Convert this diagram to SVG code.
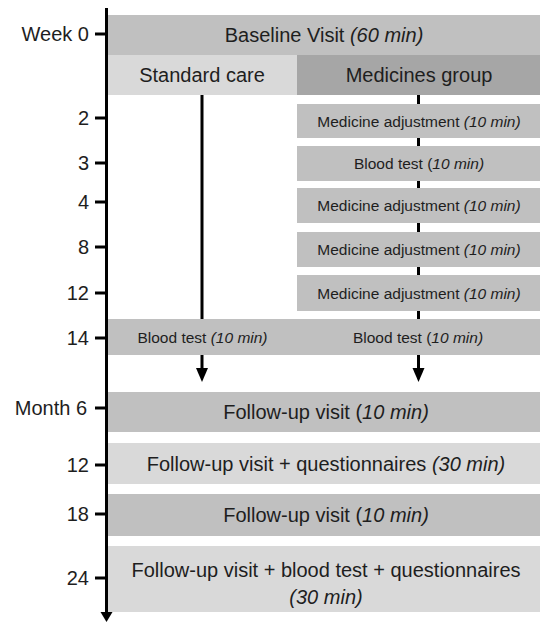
<svg xmlns="http://www.w3.org/2000/svg" width="540" height="622" viewBox="0 0 540 622">
<style>
text{font-family:"Liberation Sans",Arial,sans-serif;fill:#1e1e1e}
.h{font-size:20px}
.s{font-size:15.5px}
.lab{font-size:20px;text-anchor:end}
.c{text-anchor:middle}
.i{font-style:italic}
.mid{fill:#c0c0c0}
.light{fill:#d9d9d9}
.dark{fill:#a6a6a6}
.line{stroke:#000;stroke-width:3;fill:none}
.head{fill:#000}
</style>

<g id="connectors">
<line class="line" x1="202" y1="95" x2="202" y2="369"/>
<path class="head" d="M196,368 L208,368 L202,382 Z"/>
<line class="line" x1="418.5" y1="95" x2="418.5" y2="369"/>
<path class="head" d="M412.5,368 L424.5,368 L418.5,382 Z"/>
</g>

<g id="axis">
<line class="line" x1="106.5" y1="8" x2="106.5" y2="613"/>
<path class="head" d="M100.5,612 L112.5,612 L106.5,622 Z"/>
<g class="line">
<line x1="95" y1="34" x2="106" y2="34"/>
<line x1="95" y1="118" x2="106" y2="118"/>
<line x1="95" y1="163" x2="106" y2="163"/>
<line x1="95" y1="202" x2="106" y2="202"/>
<line x1="95" y1="247" x2="106" y2="247"/>
<line x1="95" y1="293" x2="106" y2="293"/>
<line x1="95" y1="338" x2="106" y2="338"/>
<line x1="95" y1="408" x2="106" y2="408"/>
<line x1="95" y1="465" x2="106" y2="465"/>
<line x1="95" y1="514" x2="106" y2="514"/>
<line x1="95" y1="578" x2="106" y2="578"/>
</g>
<text class="lab" x="89" y="41">Week 0</text>
<text class="lab" x="89" y="125">2</text>
<text class="lab" x="89" y="170">3</text>
<text class="lab" x="89" y="209">4</text>
<text class="lab" x="89" y="254">8</text>
<text class="lab" x="89" y="300">12</text>
<text class="lab" x="89" y="345">14</text>
<text class="lab" x="87" y="415">Month 6</text>
<text class="lab" x="89" y="472">12</text>
<text class="lab" x="89" y="521">18</text>
<text class="lab" x="89" y="585">24</text>
</g>

<g id="baseline">
<rect class="mid" x="108" y="15" width="432" height="40"/>
<text class="h c" x="324" y="42">Baseline Visit <tspan class="i">(60 min)</tspan></text>
</g>

<g id="standard-care">
<rect class="light" x="108" y="55" width="189" height="40"/>
<text class="h c" x="202" y="82">Standard care</text>
</g>

<g id="medicines-group">
<rect class="dark" x="297" y="55" width="243" height="40"/>
<text class="h c" x="419" y="82">Medicines group</text>
</g>

<g id="med-adj-2">
<rect class="mid" x="297" y="104" width="243" height="34"/>
<text class="s c" x="419" y="126.5">Medicine adjustment <tspan class="i">(10 min)</tspan></text>
</g>

<g id="blood-test-3">
<rect class="mid" x="297" y="146" width="243" height="35"/>
<text class="s c" x="419" y="169">Blood test (<tspan class="i">10 min)</tspan></text>
</g>

<g id="med-adj-4">
<rect class="mid" x="297" y="188" width="243" height="35"/>
<text class="s c" x="419" y="211">Medicine adjustment <tspan class="i">(10 min)</tspan></text>
</g>

<g id="med-adj-8">
<rect class="mid" x="297" y="232" width="243" height="35"/>
<text class="s c" x="419" y="255">Medicine adjustment <tspan class="i">(10 min)</tspan></text>
</g>

<g id="med-adj-12">
<rect class="mid" x="297" y="275" width="243" height="36"/>
<text class="s c" x="419" y="298.5">Medicine adjustment <tspan class="i">(10 min)</tspan></text>
</g>

<g id="blood-test-14">
<rect class="mid" x="108" y="319" width="432" height="36"/>
<text class="s c" x="202.5" y="342.5">Blood test <tspan class="i">(10 min)</tspan></text>
<text class="s c" x="418" y="342.5">Blood test (<tspan class="i">10 min)</tspan></text>
</g>

<g id="followup-6">
<rect class="mid" x="108" y="392" width="432" height="40"/>
<text class="h c" x="326" y="419">Follow-up visit (<tspan class="i">10 min)</tspan></text>
</g>

<g id="followup-12">
<rect class="light" x="108" y="443" width="432" height="41"/>
<text class="h c" x="326" y="470.5">Follow-up visit + questionnaires <tspan class="i">(30 min)</tspan></text>
</g>

<g id="followup-18">
<rect class="mid" x="108" y="494" width="432" height="42"/>
<text class="h c" x="326" y="522">Follow-up visit (<tspan class="i">10 min)</tspan></text>
</g>

<g id="followup-24">
<rect class="light" x="108" y="546" width="432" height="66"/>
<text class="h c" x="326" y="577">Follow-up visit + blood test + questionnaires</text>
<text class="h c i" x="326" y="604">(30 min)</text>
</g>
</svg>
